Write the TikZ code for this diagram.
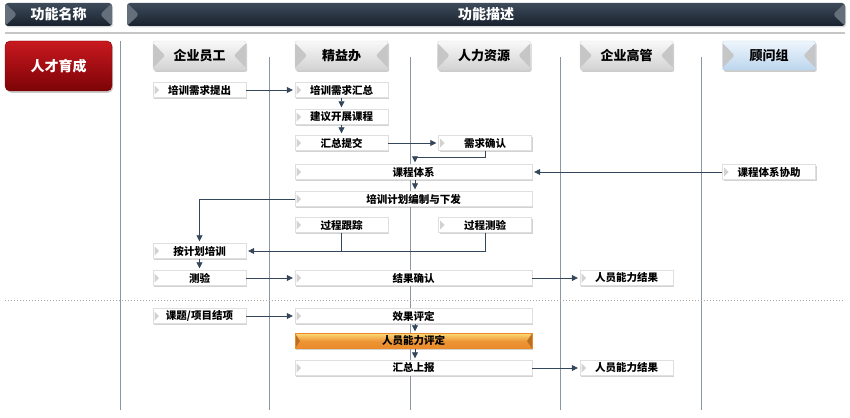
\documentclass[tikz,border=0pt]{standalone}
\usepackage{fontspec}
\setmainfont{Noto Sans CJK SC}[BoldFont={Noto Sans CJK SC Black}]
\usetikzlibrary{arrows.meta,shadows}
\definecolor{navytop}{HTML}{3E4B5B}
\definecolor{navybot}{HTML}{18212D}
\definecolor{redtop}{HTML}{C8191F}
\definecolor{redbot}{HTML}{7C0306}
\definecolor{lanegray}{HTML}{8C96A0}
\definecolor{flowcol}{HTML}{34465A}
\definecolor{orangetop}{HTML}{FCD775}
\definecolor{orangebot}{HTML}{EA8A2A}
\definecolor{bluetop}{HTML}{EEF5FC}
\definecolor{bluebot}{HTML}{BCD6EE}

\tikzset{
  box/.style={draw=gray!25, fill=white, minimum width=93pt, minimum height=15pt, inner sep=0pt,
    font=\fontsize{10.5}{10.5}\selectfont\bfseries,
    drop shadow={shadow xshift=1.2pt, shadow yshift=-1.5pt, opacity=0.35},
    path picture={\fill[gray!35] ([xshift=1.5pt,yshift=-3pt]path picture bounding box.north west)
      -- ([xshift=6pt]path picture bounding box.west)
      -- ([xshift=1.5pt,yshift=3pt]path picture bounding box.south west) -- cycle;}},
  widebox/.style={box, minimum width=237pt},
  hlbox/.style={top color=orangetop, bottom color=orangebot, middle color=orangebot!85!orangetop, draw=orangebot,
    path picture={\fill[orangebot!80!black] (path picture bounding box.north west)
      -- ([xshift=5pt]path picture bounding box.west) -- (path picture bounding box.south west) -- cycle;
      \fill[orangebot!80!black] (path picture bounding box.north east)
      -- ([xshift=-5pt]path picture bounding box.east) -- (path picture bounding box.south east) -- cycle;}},
  colhead/.style={draw=gray!30, top color=gray!5, bottom color=gray!35, rounded corners=2pt,
    minimum width=93pt, minimum height=29pt, inner sep=0pt, font=\fontsize{13}{13}\selectfont\bfseries,
    drop shadow={shadow xshift=1.2pt, shadow yshift=-1.8pt, opacity=0.4},
    path picture={\fill[gray!45] ([yshift=-2pt]path picture bounding box.north west)
      -- ([xshift=12pt]path picture bounding box.west) -- ([yshift=2pt]path picture bounding box.south west) -- cycle;
      \fill[gray!45] ([yshift=-2pt]path picture bounding box.north east)
      -- ([xshift=-12pt]path picture bounding box.east) -- ([yshift=2pt]path picture bounding box.south east) -- cycle;}},
  bluehead/.style={colhead, top color=bluetop, bottom color=bluebot, draw=bluebot},
  hdbar/.style={top color=navytop, bottom color=navybot, rounded corners=3pt, minimum height=23pt, inner sep=0pt,
    text=white, font=\fontsize{14}{14}\selectfont\bfseries,
    drop shadow={shadow xshift=1pt, shadow yshift=-1.5pt, opacity=0.3},
    path picture={\fill[navytop!80!white] (path picture bounding box.north west)
      -- ([xshift=12pt]path picture bounding box.west) -- (path picture bounding box.south west) -- cycle;
      \fill[navytop!80!white] (path picture bounding box.north east)
      -- ([xshift=-12pt]path picture bounding box.east) -- (path picture bounding box.south east) -- cycle;}},
  redbox/.style={top color=redtop, bottom color=redbot, draw=redbot, rounded corners=5pt,
    minimum width=107pt, minimum height=50pt, text=white, font=\fontsize{14}{14}\selectfont\bfseries,
    drop shadow={shadow xshift=1.2pt, shadow yshift=-1.8pt, opacity=0.4}},
  lane/.style={draw=lanegray, line width=0.9pt},
  flow/.style={draw=flowcol, line width=0.8pt, -{Triangle[length=6pt,width=6pt]}, shorten >=2pt}
}

\begin{document}
\begin{tikzpicture}[x=1pt,y=-1pt]
  \useasboundingbox (0,0) rectangle (850,417);

  \node[hdbar, minimum width=107pt] (gnmc) at (58.5,14.5) {功能名称};
  \node[hdbar, minimum width=718pt] (gnms) at (486,14.5) {功能描述};
  \draw[gray!45, line width=2pt] (5,33) -- (845,33);

  \draw[lane] (120,41) -- (120,410);
  \foreach \x in {269,410,560,701}
    \draw[lane] (\x,57) -- (\x,410);
  \draw[gray!70, line width=1pt, dotted] (5,300) -- (845,300);

  \node[redbox] (rcyc) at (58.5,66) {人才育成};

  \node[colhead] (qyyg) at (199.5,55.5) {企业员工};
  \node[colhead] (jyb) at (341.5,55.5) {精益办};
  \node[colhead] (rlzy) at (484,55.5) {人力资源};
  \node[colhead] (qygg) at (626.5,55.5) {企业高管};
  \node[bluehead] (gwz) at (769,55.5) {顾问组};

  \node[box] (pxtc) at (199.5,90) {培训需求提出};
  \node[box] (pxhz) at (341.5,90) {培训需求汇总};
  \node[box] (jykz) at (341.5,117) {建议开展课程};
  \node[box] (hztj) at (341.5,143) {汇总提交};
  \node[box] (xqqr) at (485,143) {需求确认};
  \node[widebox] (kctx) at (413.5,172) {课程体系};
  \node[box] (kcxz) at (769,172) {课程体系协助};
  \node[widebox] (pxjh) at (413.5,199) {培训计划编制与下发};
  \node[box] (gcgz) at (341.5,225) {过程跟踪};
  \node[box] (gccy) at (485,225) {过程测验};
  \node[box] (ajhp) at (199.5,251) {按计划培训};
  \node[box] (cy) at (199.5,278) {测验};
  \node[widebox] (jgqr) at (413.5,278) {结果确认};
  \node[box] (nljg) at (626.5,278) {人员能力结果};
  \node[box] (ktjx) at (199.5,316) {课题/项目结项};
  \node[widebox] (xgpd) at (413.5,316) {效果评定};
  \node[widebox, hlbox] (nlpd) at (413.5,341) {人员能力评定};
  \node[widebox] (hzsb) at (413.5,368) {汇总上报};
  \node[box] (nljgb) at (626.5,368) {人员能力结果};

  \draw[flow] (pxtc) -- (pxhz);
  \draw[flow] (pxhz) -- (jykz);
  \draw[flow] (jykz) -- (hztj);
  \draw[flow] (hztj) -- (xqqr);
  \draw[flow] (xqqr.south) -- ++(0,7) -| ([xshift=1.5pt]kctx.north);
  \draw[flow] (kcxz) -- (kctx);
  \draw[flow] ([xshift=1.5pt]kctx.south) -- ([xshift=1.5pt]pxjh.north);
  \draw[flow] (pxjh.west) -| (ajhp.north);
  \draw[flow] (gcgz.south) |- (ajhp.east);
  \draw[draw=flowcol, line width=0.8pt] (gccy.south) |- (gcgz.south |- ajhp.east);
  \draw[flow] (ajhp) -- (cy);
  \draw[flow] (cy) -- (jgqr);
  \draw[flow] (jgqr) -- (nljg);
  \draw[flow] (ktjx) -- (xgpd);
  \draw[flow] ([xshift=1.5pt]xgpd.south) -- ([xshift=1.5pt]nlpd.north);
  \draw[flow] ([xshift=1.5pt]nlpd.south) -- ([xshift=1.5pt]hzsb.north);
  \draw[flow] (hzsb) -- (nljgb);
\end{tikzpicture}
\end{document}
